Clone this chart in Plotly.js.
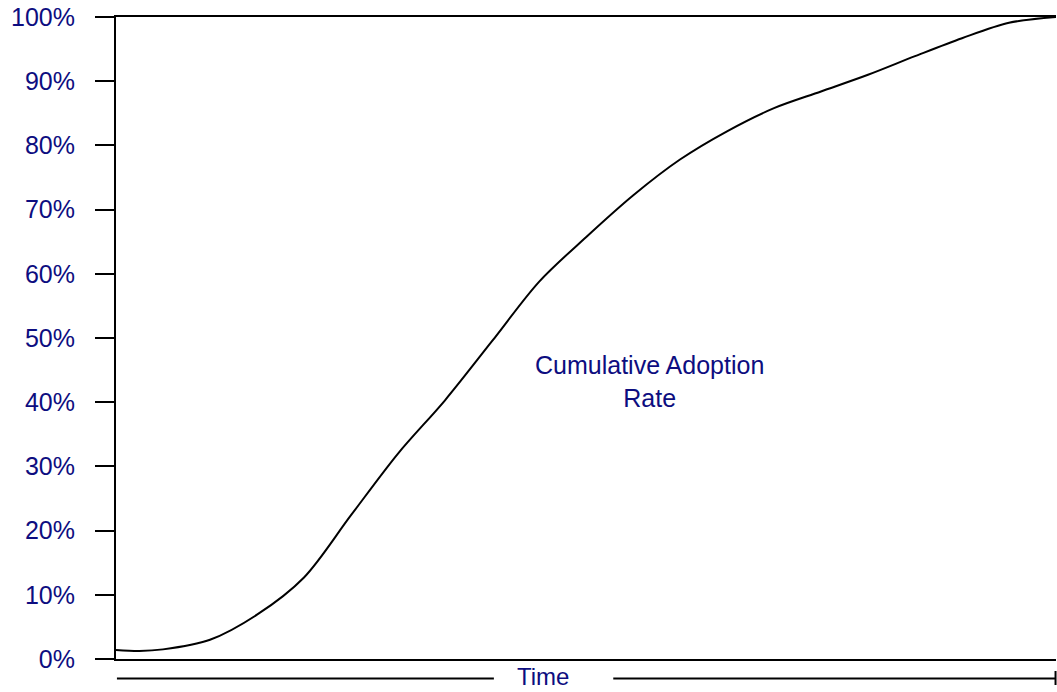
<!DOCTYPE html>
<html>
<head>
<meta charset="utf-8">
<script src="https://cdn.plot.ly/plotly-3.0.1.min.js"></script>
<style>html,body{margin:0;padding:0;background:#fff;}#chart{width:1057px;height:692px;}</style>
</head>
<body>
<div id="chart"></div>
<script>
// Time (arbitrary units, no tick labels in the original)
const timeSteps = [0, 2.5, 5, 10, 15, 20, 25, 30, 35, 40, 45, 50, 55, 60, 65, 70, 75, 80, 85, 90, 95, 100];
// Cumulative adoption rate (%)
const adoptionPct = [1.4, 1.25, 1.5, 3.0, 6.9, 12.7, 22.4, 32.0, 40.3, 49.5, 58.75, 65.7, 72.2, 77.8, 82.2, 85.8, 88.4, 91.0, 93.9, 96.7, 99.1, 100];
// Y tick labels
const yTickVals = [0, 10, 20, 30, 40, 50, 60, 70, 80, 90, 100];
const yTickText = ['0%', '10%', '20%', '30%', '40%', '50%', '60%', '70%', '80%', '90%', '100%'];
const curveLabel = 'Cumulative Adoption<br>Rate';
const xLabel = 'Time';

const navy = '#0d0d80';
const fontFam = '"Liberation Sans", Arial, sans-serif';

const trace = {
  x: timeSteps,
  y: adoptionPct,
  type: 'scatter',
  mode: 'lines',
  line: {color: '#000', width: 2, shape: 'spline', smoothing: 0.9},
  hoverinfo: 'skip'
};

const layout = {
  width: 1057,
  height: 692,
  margin: {l: 116, r: 1, t: 17, b: 33, pad: 0},
  paper_bgcolor: '#fff',
  plot_bgcolor: '#fff',
  showlegend: false,
  font: {family: fontFam, color: navy, size: 25},
  xaxis: {
    range: [0, 100],
    showline: true, linecolor: '#000', linewidth: 2, mirror: true,
    showgrid: false, zeroline: false,
    ticks: '', showticklabels: false, fixedrange: true
  },
  yaxis: {
    range: [0, 100],
    tickvals: yTickVals, ticktext: yTickText,
    ticks: 'outside', ticklen: 19, tickwidth: 2, tickcolor: '#000',
    ticklabelstandoff: 15,
    tickfont: {family: fontFam, color: navy, size: 25},
    showline: true, linecolor: '#000', linewidth: 2,
    showgrid: false, zeroline: false, fixedrange: true
  },
  shapes: [
    {type: 'line', xref: 'paper', yref: 'paper', x0: 0.001, x1: 0.402, y0: -0.0304, y1: -0.0304, line: {color: '#000', width: 2}},
    {type: 'line', xref: 'paper', yref: 'paper', x0: 0.529, x1: 1.0, y0: -0.0304, y1: -0.0304, line: {color: '#000', width: 2}},
    {type: 'line', xref: 'paper', yref: 'paper', x0: 0.9995, x1: 0.9995, y0: -0.0187, y1: -0.0405, line: {color: '#000', width: 2}}
  ],
  annotations: [
    {text: xLabel, xref: 'paper', yref: 'paper', x: 0.454, y: -0.0280, xanchor: 'center', yanchor: 'middle', showarrow: false, font: {family: fontFam, color: navy, size: 24}},
    {text: curveLabel, xref: 'paper', yref: 'paper', x: 0.568, y: 0.432, xanchor: 'center', yanchor: 'middle', align: 'center', showarrow: false, font: {family: fontFam, color: navy, size: 25}}
  ]
};

Plotly.newPlot('chart', [trace], layout, {displayModeBar: false, staticPlot: true});
</script>
</body>
</html>
